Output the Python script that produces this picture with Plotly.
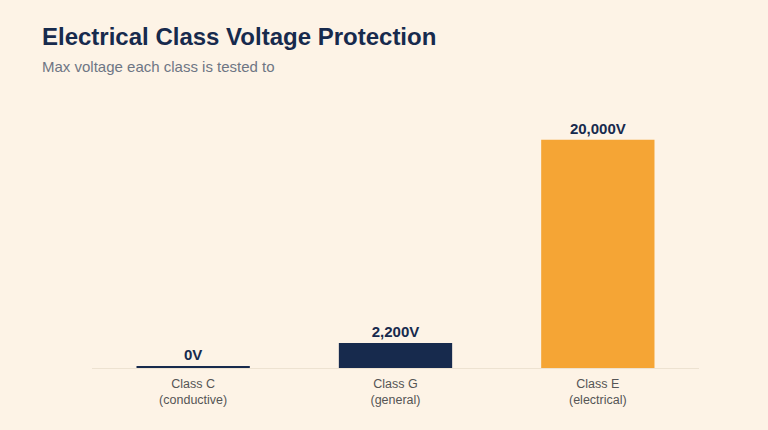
import plotly.graph_objects as go

categories = ["Class C<br>(conductive)", "Class G<br>(general)", "Class E<br>(electrical)"]
voltages = [0, 2200, 20000]
bar_colors = ["#172a4d", "#172a4d", "#f5a535"]
value_labels = [f"{v:,}V" for v in voltages]

# minimum visible bar length so a 0 value still shows as a thin line
min_len = max(voltages) * 0.008
display_vals = [max(v, min_len) for v in voltages]

BG = "#fdf3e6"
NAVY = "#172a4d"
FONT = "Liberation Sans, Arial, Helvetica, sans-serif"

fig = go.Figure(
    go.Bar(
        x=categories,
        y=display_vals,
        marker=dict(color=bar_colors, line=dict(width=0)),
        text=value_labels,
        textposition="outside",
        textfont=dict(family=FONT, size=15, color=NAVY, weight="bold"),
        cliponaxis=False,
        hoverinfo="skip",
    )
)

fig.update_layout(
    width=768,
    height=430,
    paper_bgcolor=BG,
    plot_bgcolor=BG,
    margin=dict(l=92, r=69, t=117, b=62),
    bargap=0.44,
    showlegend=False,
    font=dict(family=FONT),
    title=dict(
        text="Electrical Class Voltage Protection",
        x=42 / 768,
        xref="container",
        xanchor="left",
        y=1 - 37 / 430,
        yref="container",
        yanchor="middle",
        font=dict(family=FONT, size=24, color=NAVY, weight="bold"),
    ),
    annotations=[
        dict(
            text="Max voltage each class is tested to",
            xref="paper",
            yref="paper",
            x=(40 - 92) / 607,
            y=(368 - 66) / 251,
            xanchor="left",
            yanchor="middle",
            showarrow=False,
            font=dict(family=FONT, size=15, color="#6e7684"),
        )
    ],
    xaxis=dict(
        showgrid=False,
        zeroline=False,
        showline=True,
        linecolor="#ede2d1",
        linewidth=1,
        layer="below traces",
        ticks="outside",
        ticklen=4,
        tickcolor="rgba(0,0,0,0)",
        tickfont=dict(family=FONT, size=12.5, color="#555555"),
        fixedrange=True,
    ),
    yaxis=dict(
        range=[0, 22000],
        showgrid=False,
        zeroline=False,
        showline=False,
        showticklabels=False,
        ticks="",
        fixedrange=True,
    ),
)

fig.write_html("out.html")
